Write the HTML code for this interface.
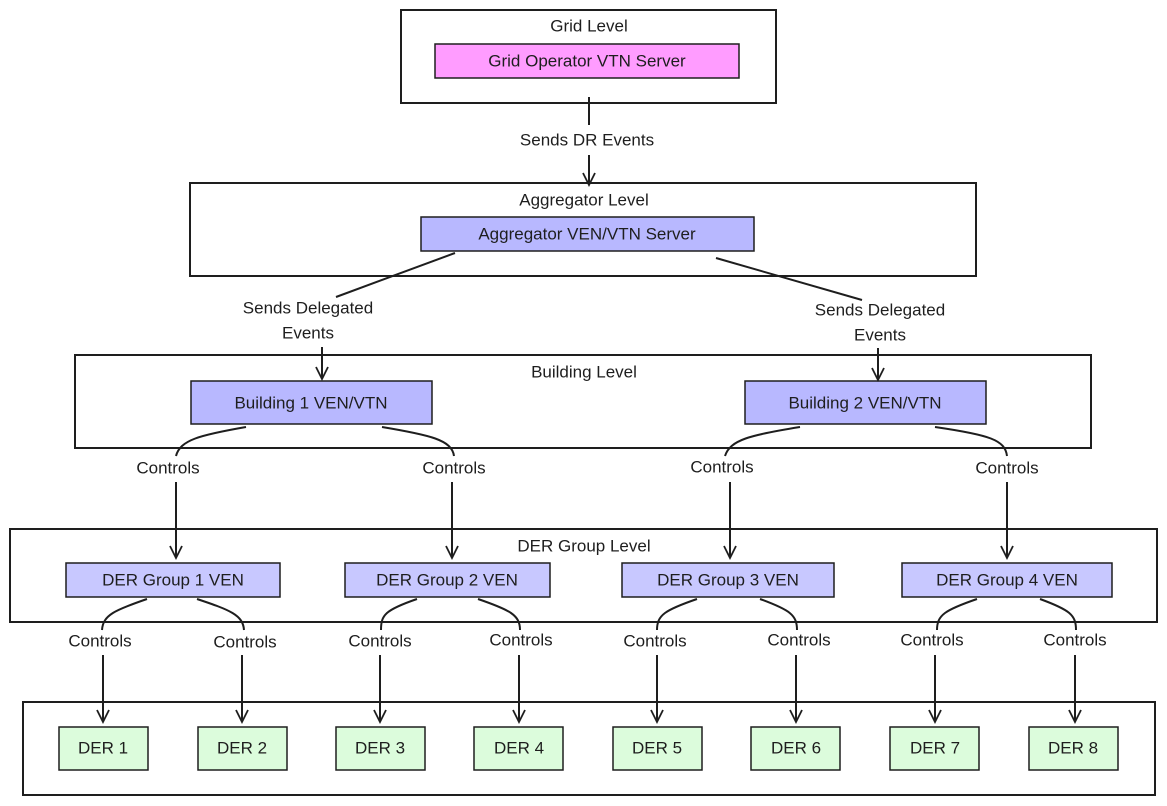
<!DOCTYPE html>
<html><head><style>body{margin:0;background:#fff}svg{display:block}text{font-family:"Liberation Sans",sans-serif;font-size:17px;fill:#1e1e1e;text-anchor:middle;dominant-baseline:central}</style></head><body>
<svg width="1167" height="806" viewBox="0 0 1167 806" xmlns="http://www.w3.org/2000/svg">
<defs><marker id="a" markerWidth="16" markerHeight="16" refX="13" refY="7" orient="auto" markerUnits="userSpaceOnUse"><path d="M1,1 L13,7 L1,13" fill="none" stroke="#1e1e1e" stroke-width="1.8"/></marker></defs>
<g fill="none" stroke="#1e1e1e" stroke-width="2">
<rect x="401" y="10" width="375" height="93"/>
<rect x="190" y="183" width="786" height="93"/>
<rect x="75" y="355" width="1016" height="93"/>
<rect x="10" y="529" width="1147" height="93"/>
<rect x="23" y="702" width="1132" height="93"/>
</g>
<g stroke="#1e1e1e" stroke-width="1.5">
<rect x="435" y="44" width="304" height="34" fill="#ff9cff"/>
<rect x="421" y="217" width="333" height="34" fill="#b8b8ff"/>
<rect x="191" y="381" width="241" height="43" fill="#b8b8ff"/>
<rect x="745" y="381" width="241" height="43" fill="#b8b8ff"/>
<rect x="66" y="563" width="214" height="34" fill="#c8c8ff"/>
<rect x="345" y="563" width="205" height="34" fill="#c8c8ff"/>
<rect x="622" y="563" width="212" height="34" fill="#c8c8ff"/>
<rect x="902" y="563" width="210" height="34" fill="#c8c8ff"/>
<g fill="#dcfcdc">
<rect x="59" y="727" width="89" height="43"/><rect x="198" y="727" width="89" height="43"/>
<rect x="336" y="727" width="89" height="43"/><rect x="474" y="727" width="89" height="43"/>
<rect x="613" y="727" width="89" height="43"/><rect x="751" y="727" width="89" height="43"/>
<rect x="890" y="727" width="89" height="43"/><rect x="1029" y="727" width="89" height="43"/>
</g></g>
<g fill="none" stroke="#1e1e1e" stroke-width="2">
<path d="M589,97 L589,125"/><path d="M589,155 L589,185" marker-end="url(#a)"/>
<path d="M455,253 L336,297"/><path d="M322,347 L322,379" marker-end="url(#a)"/>
<path d="M716,258 L862,300"/><path d="M878,348 L878,380" marker-end="url(#a)"/>
<path d="M246,427 C200,435 180,440 176,456"/><path d="M176,482 L176,558" marker-end="url(#a)"/>
<path d="M382,427 C430,435 452,440 454,456"/><path d="M452,482 L452,558" marker-end="url(#a)"/>
<path d="M800,427 C750,435 730,440 725,456"/><path d="M730,482 L730,558" marker-end="url(#a)"/>
<path d="M935,427 C990,435 1005,440 1007,456"/><path d="M1007,482 L1007,558" marker-end="url(#a)"/>
<path d="M147,599 C115,610 103,615 102,630"/><path d="M103,655 L103,722" marker-end="url(#a)"/>
<path d="M197,599 C230,610 243,615 244,630"/><path d="M242,655 L242,722" marker-end="url(#a)"/>
<path d="M417,599 C385,610 381,615 381,630"/><path d="M380,655 L380,722" marker-end="url(#a)"/>
<path d="M478,599 C510,610 520,615 520,630"/><path d="M519,655 L519,722" marker-end="url(#a)"/>
<path d="M697,599 C665,610 657,615 657,630"/><path d="M657,655 L657,722" marker-end="url(#a)"/>
<path d="M760,599 C790,610 797,615 797,630"/><path d="M796,655 L796,722" marker-end="url(#a)"/>
<path d="M977,599 C945,610 937,615 937,630"/><path d="M935,655 L935,722" marker-end="url(#a)"/>
<path d="M1040,599 C1070,610 1076,615 1076,630"/><path d="M1075,655 L1075,722" marker-end="url(#a)"/>
</g>
<text x="589" y="26">Grid Level</text>
<text x="587" y="61">Grid Operator VTN Server</text>
<text x="587" y="140">Sends DR Events</text>
<text x="584" y="200">Aggregator Level</text>
<text x="587" y="234">Aggregator VEN/VTN Server</text>
<text x="308" y="308">Sends Delegated</text><text x="308" y="333">Events</text>
<text x="880" y="310">Sends Delegated</text><text x="880" y="335">Events</text>
<text x="584" y="372">Building Level</text>
<text x="311" y="403">Building 1 VEN/VTN</text>
<text x="865" y="403">Building 2 VEN/VTN</text>
<text x="168" y="468">Controls</text><text x="454" y="468">Controls</text>
<text x="722" y="467">Controls</text><text x="1007" y="468">Controls</text>
<text x="584" y="546">DER Group Level</text>
<text x="173" y="580">DER Group 1 VEN</text><text x="447" y="580">DER Group 2 VEN</text>
<text x="728" y="580">DER Group 3 VEN</text><text x="1007" y="580">DER Group 4 VEN</text>
<text x="100" y="641">Controls</text><text x="245" y="642">Controls</text>
<text x="380" y="641">Controls</text><text x="521" y="640">Controls</text>
<text x="655" y="641">Controls</text><text x="799" y="640">Controls</text>
<text x="932" y="640">Controls</text><text x="1075" y="640">Controls</text>
<text x="103" y="748">DER 1</text><text x="242" y="748">DER 2</text>
<text x="380" y="748">DER 3</text><text x="519" y="748">DER 4</text>
<text x="657" y="748">DER 5</text><text x="796" y="748">DER 6</text>
<text x="935" y="748">DER 7</text><text x="1073" y="748">DER 8</text>
</svg></body></html>
